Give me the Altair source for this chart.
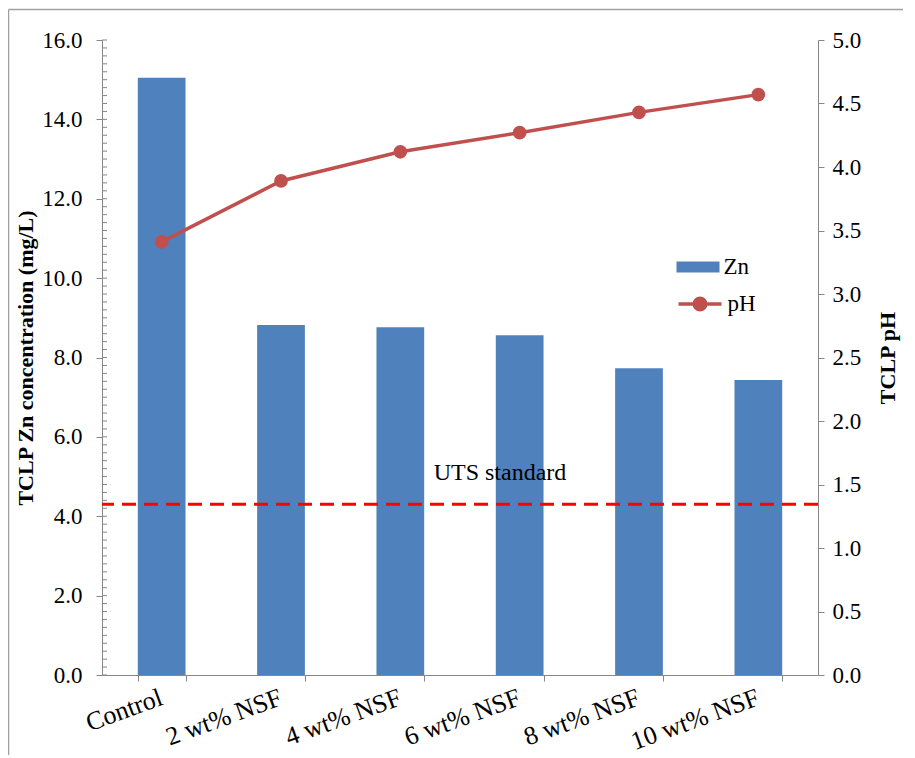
import altair as alt
import pandas as pd

categories = ["Control", "2 wt% NSF", "4 wt% NSF", "6 wt% NSF", "8 wt% NSF", "10 wt% NSF"]
zn_values = [15.05, 8.82, 8.76, 8.56, 7.73, 7.43]
ph_values = [3.41, 3.89, 4.12, 4.27, 4.43, 4.57]
uts_standard = [4.3]
zn_ticks = [0, 2, 4, 6, 8, 10, 12, 14, 16]
ph_ticks = [0, 0.5, 1, 1.5, 2, 2.5, 3, 3.5, 4, 4.5, 5]
minor_ticks = [round(i * 0.2, 1) for i in range(81)]

FONT = "Liberation Serif"
BLUE = "#4F81BD"
RED = "#C0504D"
GRAY = "#878787"

df = pd.DataFrame({"cat": categories, "zn": zn_values, "ph": ph_values,
                   "zn_label": ["Zn"] * 6, "ph_label": ["pH"] * 6})
uts_df = pd.DataFrame({"uts": uts_standard})
minor_df = pd.DataFrame({"v": minor_ticks})

x_enc = alt.X(
    "cat:N", sort=categories,
    scale=alt.Scale(paddingInner=0.6, paddingOuter=0.3),
    axis=alt.Axis(title=None, labelAngle=340, labelAlign="right", labelBaseline="top",
                  labelFont=FONT, labelFontSize=26, labelColor="black", labelPadding=3,
                  labelOffset=-5,
                  tickBand="extent", tickSize=6, tickColor=GRAY, domainColor=GRAY,
                  labelLimit=300, labelOverlap=False),
)

left_scale = alt.Scale(domain=[0, 16], nice=False)
left_axis = alt.Axis(orient="left", values=zn_ticks, format=".1f",
                     title="TCLP Zn concentration (mg/L)",
                     titleFont=FONT, titleFontSize=22, titleFontWeight="bold",
                     titleColor="black", titleAngle=270, titleBaseline="middle",
                     titleX=-77, titleY=317.5, titleAlign="center",
                     labelFont=FONT, labelFontSize=23, labelColor="black",
                     labelPadding=14, tickSize=6, tickColor=GRAY, domainColor=GRAY)

right_scale = alt.Scale(domain=[0, 5], nice=False)
right_axis = alt.Axis(orient="right", values=ph_ticks, format=".1f", title="TCLP pH",
                      titleFont=FONT, titleFontSize=22, titleFontWeight="bold",
                      titleColor="black", titleAngle=270, titleBaseline="middle",
                      titleX=69, titleY=317.5, titleAlign="center",
                      labelFont=FONT, labelFontSize=23, labelColor="black",
                      labelPadding=8, tickSize=6, tickColor=GRAY, domainColor=GRAY)

bars = alt.Chart(df).mark_bar(color=BLUE).encode(
    x=x_enc,
    y=alt.Y("zn:Q", scale=left_scale, axis=left_axis),
    fill=alt.Fill("zn_label:N", scale=alt.Scale(domain=["Zn"], range=[BLUE]),
                  legend=alt.Legend(orient="none", legendX=574.5, legendY=205.5, title=None,
                                    symbolType="M-1,-0.26H1V0.26H-1Z", symbolSize=1849,
                                    symbolStrokeWidth=0, labelFont=FONT, labelFontSize=23,
                                    labelColor="black", labelOffset=4, padding=0)),
)

minor = alt.Chart(minor_df).mark_rule(color=GRAY, strokeWidth=1).encode(
    y=alt.Y("v:Q", scale=left_scale, axis=left_axis), x=alt.value(0), x2=alt.value(5)
)

uts_rule = alt.Chart(uts_df).mark_rule(color="#FF0000", strokeWidth=3, strokeDash=[14, 8]).encode(
    y=alt.Y("uts:Q", scale=left_scale, axis=left_axis)
)

uts_text = alt.Chart(uts_df).mark_text(text="UTS standard", font=FONT, fontSize=24,
                                        color="black", align="center", baseline="alphabetic",
                                        dy=-24).encode(
    x=alt.value(398), y=alt.Y("uts:Q", scale=left_scale, axis=left_axis)
)

frame_left = alt.Chart(uts_df).mark_rule(color="#A0A0A0", strokeWidth=1.5).encode(
    x=alt.value(-93.5), y=alt.value(-30.5), y2=alt.value(760)
)
frame_top = alt.Chart(uts_df).mark_rule(color="#A0A0A0", strokeWidth=1.5).encode(
    x=alt.value(-93.5), x2=alt.value(820), y=alt.value(-30.5)
)

left = alt.layer(frame_left, frame_top, bars, minor, uts_rule, uts_text)

line = alt.Chart(df).mark_line(color=RED, strokeWidth=3.5).encode(
    x=x_enc,
    y=alt.Y("ph:Q", scale=right_scale, axis=right_axis),
)

points = alt.Chart(df).mark_point(filled=True, color=RED, size=105, opacity=1,
                                  strokeWidth=3.5).encode(
    x=x_enc,
    y=alt.Y("ph:Q", scale=right_scale, axis=right_axis),
    stroke=alt.Stroke("ph_label:N", scale=alt.Scale(domain=["pH"], range=[RED]),
                      legend=alt.Legend(orient="none", legendX=574.5, legendY=240.5, title=None,
                                        symbolType="M-1,0H1M-0.27,0A0.27,0.27 0 1,0 0.27,0A0.27,0.27 0 1,0 -0.27,0Z",
                                        symbolSize=1849, symbolStrokeWidth=3.5,
                                        symbolFillColor=RED,
                                        labelFont=FONT, labelFontSize=23, labelColor="black",
                                        labelOffset=4, padding=0)),
)

right = alt.layer(line, points)

chart = alt.layer(left, right).resolve_scale(y="independent").properties(
    width=716, height=635,
    autosize=alt.AutoSizeParams(type="none"),
    padding={"left": 94, "top": 32, "right": 85, "bottom": 80},
).configure_view(stroke=None).configure_axis(grid=False)

chart.save("out.html", embed_options={"renderer": "svg", "actions": False})
